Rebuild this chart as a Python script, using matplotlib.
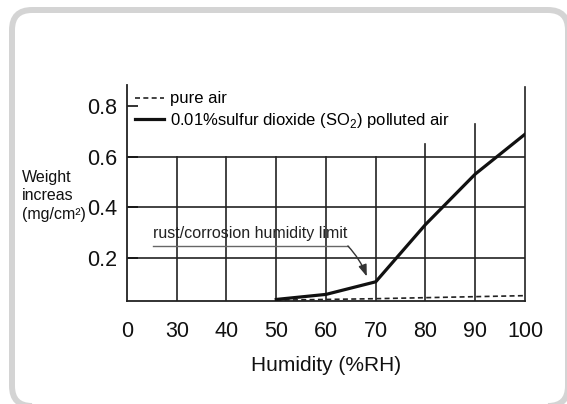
import numpy as np
import matplotlib
matplotlib.use('Agg')
import matplotlib.pyplot as plt
from matplotlib.patches import FancyBboxPatch

plt.rcParams['font.family'] = ['Liberation Sans', 'DejaVu Sans']
plt.rcParams['mathtext.fontset'] = 'custom'
plt.rcParams['mathtext.rm'] = 'Liberation Sans'

# data
x_ticks = [0, 30, 40, 50, 60, 70, 80, 90, 100]
y_ticks = [0.2, 0.4, 0.6, 0.8]
humidity = [50, 60, 70, 80, 90, 100]
pure_air = [0.032, 0.035, 0.038, 0.042, 0.046, 0.050]
so2_air = [0.035, 0.055, 0.105, 0.332, 0.532, 0.690]

# x axis is not linear: 0..30 takes the same room as 30..40
def fwd(x):
    return np.interp(x, [0, 30, 100], [0, 1, 8])

def inv(p):
    return np.interp(p, [0, 1, 8], [0, 30, 100])

fig = plt.figure(figsize=(5.67, 4.04), dpi=100)
ax = fig.add_axes([127 / 567, 1 - 300.7 / 404, 398 / 567, 215.7 / 404])
ax.set_xscale('function', functions=(fwd, inv))
ax.set_xlim(0, 100)
ax.set_ylim(0.03, 0.885)

gc = '#222222'
# grid
for y in y_ticks[:3]:
    ax.plot([0, 100], [y, y], color=gc, lw=1.2, zorder=1)
for x in x_ticks[1:-1]:
    top = 0.6
    if x == 80:
        top = 0.653
    if x == 90:
        top = 0.732
    ax.plot([x, x], [0.03, top], color=gc, lw=1.2, zorder=1)

ax.plot(humidity, pure_air, color='#222222', lw=1.2, ls=(0, (3, 2)),
        label='pure air', zorder=3)
ax.plot(humidity, so2_air, color='#111111', lw=2.3,
        label='0.01%sulfur dioxide (SO$_2$) polluted air', zorder=4)

ax.spines['top'].set_visible(False)
ax.spines['left'].set_linewidth(1.3)
ax.spines['bottom'].set_linewidth(1.3)
ax.spines['right'].set_linewidth(1.2)
ax.spines['right'].set_bounds(0.03, 0.878)
for s in ax.spines.values():
    s.set_color(gc)

ax.set_xticks(x_ticks)
ax.set_xticklabels([str(v) for v in x_ticks])
ax.set_yticks(y_ticks)
ax.set_yticklabels([str(v) for v in y_ticks])
ax.xaxis.set_minor_locator(matplotlib.ticker.NullLocator())
ax.tick_params(axis='x', length=0, pad=14.5, labelsize=15.5, colors='#111111')
ax.tick_params(axis='y', direction='in', length=8, width=1.2, pad=7,
               labelsize=15.5, colors='#111111')
ax.set_xlabel('Humidity (%RH)', fontsize=15, color='#111111', labelpad=10)

ax.legend(loc='upper left', bbox_to_anchor=(0.02, 0.97), frameon=False,
          fontsize=12, handlelength=1.75, handletextpad=0.35,
          labelspacing=0.25, borderaxespad=0, borderpad=0)

# annotation: underlined label with arrow to the kink
ax.text(15.5, 0.297, 'rust/corrosion humidity limit', fontsize=11.5,
        color='#222222', va='center', ha='left')
ax.plot([15.5, 64.4], [0.247, 0.247], color='#666666', lw=1.0, zorder=2)
ax.annotate('', xy=(68.2, 0.126), xytext=(64.4, 0.247),
            arrowprops=dict(arrowstyle='-|>,head_length=0.7,head_width=0.25',
                            color='#333333', lw=1.0, shrinkA=0, shrinkB=0,
                            connectionstyle='arc3,rad=-0.1'))

fig.text(21.7 / 567, 1 - 196 / 404, 'Weight\nincreas\n(mg/cm\u00b2)',
         fontsize=11.5, ha='left', va='center', linespacing=1.32,
         color='#111111')

frame = FancyBboxPatch((12, -2), 556, 396,
                       boxstyle='round,pad=0,rounding_size=20',
                       transform=None, fill=False, ec='#d4d4d4', lw=4.3)
fig.patches.append(frame)

fig.savefig('out.png', dpi=100)
